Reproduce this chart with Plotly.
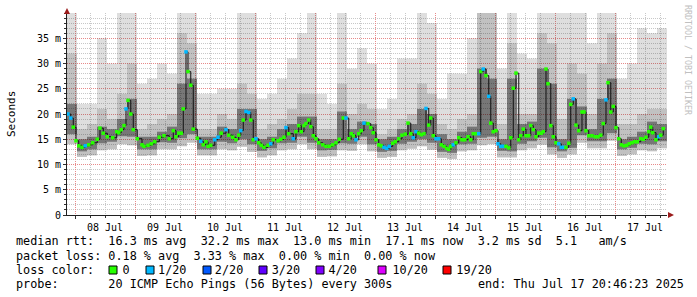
import pandas as pd
import plotly.graph_objects as go

# ---------------- data ----------------
START = pd.Timestamp("2025-07-07 20:46:23")
END = pd.Timestamp("2025-07-17 20:46:23")

# median rtt samples: hours after START, value in ms, lost pings (of 20)
median_hours = [0.4, 1.5, 2.5, 3.6, 4.7, 6.0, 7.3, 8.7, 10.3, 12.1, 13.2, 14.5, 16.1, 18.3, 19.9, 20.7, 21.7, 22.8, 23.6, 24.4,
                25.5, 26.5, 28.1, 30.0, 30.8, 32.4, 33.7, 35.1, 36.9, 38.8, 40.9, 42.5, 43.6, 44.7, 45.7, 46.5, 47.6, 48.4, 49.5, 50.5,
                52.1, 53.5, 54.5, 55.6, 56.4, 57.5, 59.1,
                60.4, 61.7, 63.6, 64.7, 66.3, 67.6, 68.7, 69.5, 70.5, 71.6, 72.7, 73.5, 74.5, 75.6, 76.7, 77.7, 78.8, 80.4, 81.5, 82.5,
                84.4, 85.5, 86.8, 87.6, 88.7, 90.5, 91.6, 92.7, 93.7, 94.8, 95.6, 96.7, 97.5, 98.5, 99.6, 100.7, 102.3, 103.6, 104.9, 106.3,
                107.6, 108.9, 110.5, 111.6, 112.7, 113.7, 114.5, 115.6, 116.7, 117.7, 118.8,
                120.4, 121.5, 122.5, 123.6, 124.7, 125.7, 126.8, 127.9, 128.9, 130.3, 131.3, 132.7, 134.0, 135.3, 136.4, 137.5, 138.5, 139.6, 140.7, 141.7,
                142.8, 143.6, 144.7, 145.5, 146.5, 147.6, 148.7, 149.7, 150.8, 151.9, 152.7, 153.5, 154.5, 155.6, 156.7, 158.0, 159.1, 160.4, 161.5, 162.5,
                163.6, 164.7, 165.5, 166.5, 167.6, 168.7, 169.5, 170.5, 171.6, 172.4, 173.5, 174.5, 175.6, 176.7, 177.5, 178.5, 179.6,
                180.7, 181.5, 182.5, 183.6, 184.7, 185.5, 186.5, 187.6, 188.7, 189.7, 190.5, 191.6, 192.4, 193.5, 194.5, 195.6, 196.7, 197.7, 198.8, 199.6,
                200.7, 201.5, 202.5, 203.6, 204.7, 206.0, 206.8, 207.6, 208.7, 210.0, 211.3, 212.4, 213.5, 214.5, 215.6, 216.4, 217.5, 218.5, 219.6, 220.7,
                221.7, 222.8, 223.9, 224.9, 226.0, 227.1, 228.1, 229.5, 230.5, 231.6, 232.7, 233.5, 234.3, 235.6, 236.7, 237.5, 238.5]

median_ms = [20.0, 19.2, 17.4, 14.7, 13.7, 13.4, 13.7, 13.9, 14.3, 15.0, 17.2, 16.2, 15.5, 15.3, 16.5, 16.3, 16.9, 17.7, 21.0, 22.7,
             20.0, 16.9, 15.1, 13.9, 13.6, 13.8, 14.1, 14.5, 15.4, 15.7, 15.1, 16.7, 15.5, 16.2, 16.2, 21.0, 32.3, 28.4, 25.7, 17.0,
             15.2, 14.6, 13.9, 14.5, 13.6, 13.8, 14.9,
             15.4, 16.2, 16.9, 15.8, 15.4, 14.9, 15.8, 16.7, 18.8, 20.5, 20.3, 18.8, 14.9, 15.1, 14.3, 13.8, 13.4, 13.8, 14.1, 14.9,
             14.7, 15.0, 15.4, 17.3, 16.1, 15.1, 16.5, 17.7, 16.5, 17.7, 18.1, 18.8, 17.5, 15.7, 15.1, 14.3, 13.9, 13.6, 13.6, 13.9,
             14.3, 15.0, 19.2, 19.2, 15.1, 16.1, 15.7, 14.9, 16.1, 16.7, 18.2,
             18.1, 17.3, 16.3, 14.9, 13.9, 13.7, 13.4, 13.2, 13.6, 14.2, 14.5, 15.1, 15.8, 16.0, 18.2, 16.1, 15.3, 16.5, 16.2, 15.9,
             16.1, 21.1, 17.8, 19.2, 15.7, 15.1, 15.1, 13.9, 13.6, 13.2, 13.0, 13.6, 13.9, 14.3, 15.3, 14.9, 14.9, 15.5, 14.9, 16.1,
             16.1, 16.1, 28.4, 28.9, 27.6, 23.5, 18.2, 16.5, 16.7, 14.1, 13.6, 13.6, 13.6, 13.3, 15.3, 25.1, 28.1,
             14.9, 15.7, 17.0, 15.7, 15.7, 17.7, 16.9, 15.5, 16.2, 16.2, 16.5, 28.9, 26.0, 17.7, 15.5, 14.3, 14.1, 13.4, 13.4, 13.4,
             14.2, 21.9, 23.0, 17.8, 16.7, 20.4, 20.4, 16.7, 15.7, 15.7, 15.5, 15.5, 15.8, 18.1, 22.8, 26.2, 20.4, 21.5, 17.3, 15.1,
             13.9, 13.7, 13.8, 14.1, 14.3, 14.5, 14.5, 15.1, 15.0, 15.4, 16.5, 17.4, 16.3, 14.9, 15.5, 15.8, 17.1]

median_loss = [1, 1, 0, 0, 0, 0, 1, 0, 0, 0, 0, 0, 0, 0, 0, 0, 0, 0, 1, 0,
               0, 0, 0, 0, 0, 0, 0, 0, 0, 0, 0, 0, 0, 0, 0, 0, 1, 0, 0, 0,
               0, 1, 0, 0, 0, 0, 1,
               1, 0, 1, 0, 0, 0, 0, 1, 0, 1, 1, 0, 0, 1, 0, 0, 0, 0, 1, 0,
               0, 0, 0, 1, 0, 1, 0, 0, 0, 0, 0, 0, 0, 0, 0, 0, 0, 0, 0, 0,
               0, 0, 0, 1, 0, 0, 0, 1, 0, 0, 1,
               0, 0, 0, 0, 0, 0, 1, 1, 1, 0, 0, 0, 0, 0, 0, 0, 1, 1, 0, 0,
               0, 1, 0, 0, 0, 1, 1, 0, 0, 0, 0, 0, 1, 0, 0, 0, 0, 0, 0, 0,
               0, 1, 0, 1, 0, 1, 0, 0, 0, 1, 1, 1, 0, 0, 0, 0, 0,
               0, 0, 0, 0, 0, 0, 0, 0, 0, 0, 0, 0, 0, 0, 0, 0, 1, 1, 1, 0,
               0, 0, 1, 0, 0, 0, 0, 0, 0, 0, 0, 0, 0, 0, 1, 0, 0, 0, 0, 0,
               0, 0, 0, 0, 0, 0, 0, 0, 0, 0, 0, 0, 0, 0, 1, 0, 0]

# smoke (ping spread) per 4-hour bin, in ms
smoke_bin_hours = [2 + 4 * k for k in range(60)]
smoke_max = [40, 22, 22, 35, 30, 40, 40, 26, 27, 30, 28, 40, 40, 24, 24, 25, 25, 40, 40, 23,
             24, 27, 31, 36, 40, 24, 22, 40, 29, 33, 30, 21, 23, 31, 31, 40, 38, 23, 28, 28,
             35, 40, 40, 29, 40, 32, 31, 40, 40, 40, 40, 40, 34, 40, 40, 27, 30, 37, 36, 37]
smoke_p90 = [32, 17, 18, 21, 19, 24, 30, 17, 18, 19, 20, 36, 34, 17, 17, 20, 19, 26, 24, 17,
             18, 19, 21, 24, 24, 17, 17, 26, 20, 22, 21, 16, 17, 19, 20, 26, 24, 18, 17, 19,
             20, 40, 40, 18, 34, 20, 20, 36, 34, 19, 30, 28, 20, 30, 36, 18, 18, 20, 21, 21]
smoke_p75 = [22, 15, 15.5, 17.5, 17, 19, 23, 15.5, 15.5, 16.5, 17.5, 26, 27, 15.5, 15.5, 17.5, 17, 21, 21, 15,
             15.5, 17, 18, 19.5, 19.5, 15, 15, 20.5, 17, 18.5, 18, 15, 15.5, 17, 18, 21, 20, 16, 15, 16.5,
             17.5, 29, 27, 15, 27, 18, 18.5, 29, 26, 15, 23, 21.5, 17, 23, 27, 15, 15.5, 16.5, 18.5, 18]
smoke_p25 = [16, 12.6, 13, 14.2, 14.5, 15.6, 15.5, 13, 13, 14.4, 14.3, 15.2, 16, 13, 13, 14.5, 14.2, 15, 14, 12.7,
             13.2, 14.2, 14.3, 15.5, 14.3, 12.8, 12.9, 14.2, 14.1, 15.5, 14, 12.5, 12.7, 14.1, 14.5, 15, 14.3, 12.5, 12.3, 14,
             14.1, 15.3, 15.5, 12.7, 12.6, 14.1, 14.6, 15.3, 13.4, 12.6, 13.3, 15.8, 14.6, 14.6, 16.2, 13, 13.3, 14.1, 14, 14.6]
smoke_min = [14, 11.5, 11.8, 12.8, 13, 14, 13.8, 11.7, 11.8, 13, 13, 13.6, 14.3, 11.8, 11.8, 13, 12.8, 13.5, 12.5, 11.4,
             11.8, 12.8, 13, 14, 13, 11.5, 11.6, 12.8, 12.7, 14, 12.6, 11.3, 11.5, 12.8, 13.1, 13.6, 12.9, 11.3, 11.1, 12.6,
             12.8, 13.8, 14, 11.4, 11.4, 12.8, 13.2, 13.9, 12, 11.3, 12, 14.3, 13.2, 13.2, 14.7, 11.7, 12, 12.8, 12.6, 13.2]

y_tick_vals = [0, 5, 10, 15, 20, 25, 30, 35]
y_tick_text = ["0", "5 m", "10 m", "15 m", "20 m", "25 m", "30 m", "35 m"]

loss_levels = ["0", "1/20", "2/20", "3/20", "4/20", "10/20", "19/20"]
loss_colors = ["#26ff00", "#00b8ff", "#0059ff", "#5e00ff", "#7e00ff", "#dd00ff", "#ff0000"]

stats_rtt = "median rtt:  16.3 ms avg  32.2 ms max  13.0 ms min  17.1 ms now  3.2 ms sd  5.1   am/s"
stats_loss = "packet loss: 0.18 % avg  3.33 % max  0.00 % min  0.00 % now"
probe_text = "probe:       20 ICMP Echo Pings (56 Bytes) every 300s"
end_text = "end: Thu Jul 17 20:46:23 2025"
watermark = "RRDTOOL / TOBI OETIKER"

# ---------------- geometry helpers ----------------
W, H = 697, 297
ML, MR, MT, MB = 67, 30, 13, 82
PW, PH = W - ML - MR, H - MT - MB


def px(x):
    return (x - ML) / PW


def py(y):
    return (H - MB - y) / PH


MONO = "DejaVu Sans Mono"
NB = "\u00a0"

fig = go.Figure()

# smoke layers
bin_x = [START + pd.Timedelta(hours=h) for h in smoke_bin_hours]
bin_w = 4 * 3600 * 1000
layers = [
    (smoke_min, smoke_max, "rgba(0,0,0,0.13)"),
    (smoke_min, smoke_p90, "rgba(0,0,0,0.13)"),
    (smoke_p25, smoke_p75, "rgba(0,0,0,0.38)"),
]
for lo, hi, col in layers:
    fig.add_trace(go.Bar(
        x=bin_x, y=[h - l for l, h in zip(lo, hi)], base=lo, width=bin_w,
        marker=dict(color=col, line=dict(width=0)), showlegend=False, hoverinfo="skip"))

# median line with loss colors
med_x = [START + pd.Timedelta(hours=h) for h in median_hours]
fig.add_trace(go.Scatter(
    x=med_x, y=median_ms, mode="lines+markers",
    line=dict(color="#101010", width=1, shape="hv"),
    marker=dict(symbol="square", size=3.5, color=[loss_colors[l] for l in median_loss], line=dict(width=0)),
    showlegend=False, hoverinfo="skip"))

fig.update_layout(
    width=W, height=H, autosize=False,
    margin=dict(l=ML, r=MR, t=MT, b=MB, pad=0),
    paper_bgcolor="#ffffff", plot_bgcolor="#ffffff",
    barmode="overlay", showlegend=False,
    font=dict(family=MONO, size=10, color="#000000"),
)

fig.update_xaxes(
    type="date", range=[START, END],
    tick0="2025-07-08 00:00:00", dtick=86400000, ticklabelmode="period", tickformat="%d %b",
    showgrid=True, gridcolor="#e88a8a", griddash="1px,1px", gridwidth=1,
    ticks="outside", ticklen=3, tickcolor="#303030",
    showline=True, linecolor="#202020", linewidth=1,
    tickfont=dict(family=MONO, size=10, color="#000000"),
    minor=dict(dtick=6 * 3600 * 1000, tick0="2025-07-08 00:00:00", showgrid=True,
               gridcolor="#c8c8c8", griddash="1px,1px", ticks="outside", ticklen=2, tickcolor="#303030"),
    zeroline=False, fixedrange=True,
)
fig.update_yaxes(
    range=[0, 40], tickvals=y_tick_vals, ticktext=y_tick_text,
    showgrid=True, gridcolor="#e88a8a", griddash="1px,1px", gridwidth=1,
    ticks="outside", ticklen=3, tickcolor="#303030",
    showline=True, linecolor="#202020", linewidth=1,
    tickfont=dict(family=MONO, size=10, color="#000000"),
    minor=dict(dtick=1, showgrid=True, gridcolor="#c8c8c8", griddash="1px,1px",
               ticks="outside", ticklen=2, tickcolor="#303030"),
    zeroline=False, fixedrange=True,
)

# axis arrows
arrow_col = "#9b1c1c"
fig.add_shape(type="path", xref="paper", yref="paper",
              path=f"M {px(64)},{py(14)} L {px(70)},{py(14)} L {px(67)},{py(8)} Z",
              fillcolor=arrow_col, line=dict(width=0))
fig.add_shape(type="path", xref="paper", yref="paper",
              path=f"M {px(668)},{py(212)} L {px(668)},{py(218)} L {px(674)},{py(215)} Z",
              fillcolor=arrow_col, line=dict(width=0))

# y title and watermark
fig.add_annotation(xref="paper", yref="paper", x=px(11), y=py(114), text="Seconds", textangle=-90,
                   xanchor="center", yanchor="middle",
                   showarrow=False, font=dict(family=MONO, size=11, color="#000000"))
fig.add_annotation(xref="paper", yref="paper", x=px(688), y=py(60), text=watermark, textangle=90,
                   xanchor="center", yanchor="middle",
                   showarrow=False, font=dict(family=MONO, size=8.3, color="#c0c0c0"))

# legend / stats text
fs = 11.8


def line(text, x, y):
    fig.add_annotation(xref="paper", yref="paper", x=px(x), y=py(y), xanchor="left", yanchor="middle",
                       text=text.replace(" ", NB), showarrow=False, borderpad=0,
                       font=dict(family=MONO, size=fs, color="#000000"))


line(stats_rtt, 15, 241)
line(stats_loss, 15, 255.7)
loss_line = ("loss color:    " + "0" + "    " + "1/20" + "    " + "2/20" + "    " + "3/20" + "    " +
             "4/20" + "     " + "10/20" + "    " + "19/20")
line(loss_line, 15, 270)
line(probe_text, 15, 284.3)
line(end_text, 477, 284.3)

box_left = [109, 146, 203, 259, 316, 378, 443]
for bx, col in zip(box_left, loss_colors):
    fig.add_shape(type="rect", xref="paper", yref="paper",
                  x0=px(bx), x1=px(bx + 8), y0=py(274), y1=py(266),
                  fillcolor=col, line=dict(color="#000000", width=1))

fig.write_html("out.html")
